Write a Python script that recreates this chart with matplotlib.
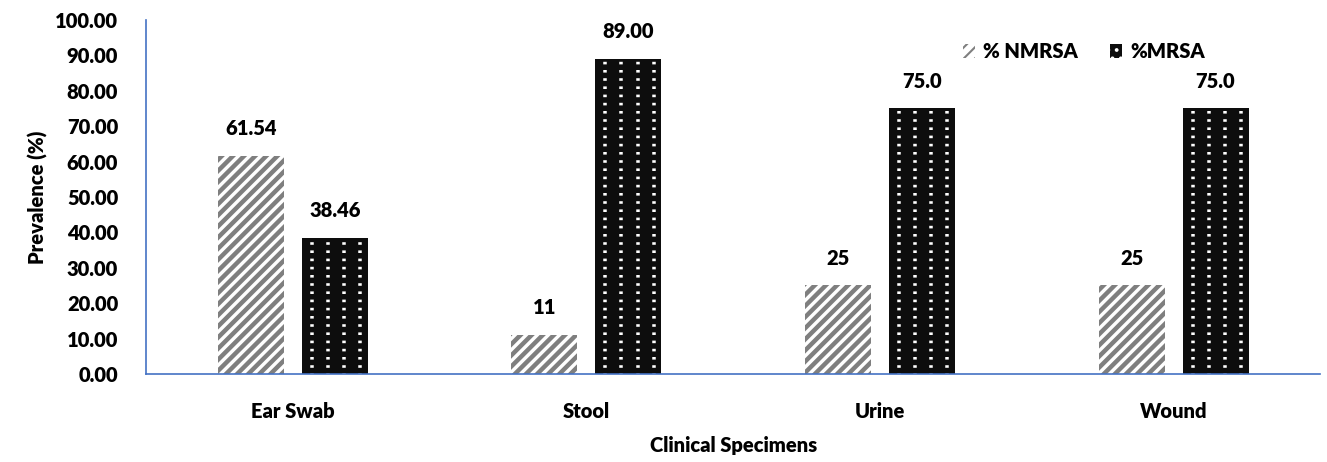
import matplotlib
matplotlib.use("Agg")
import matplotlib.pyplot as plt
import numpy as np

categories = ["Ear Swab", "Stool", "Urine", "Wound"]
nmrsa = [61.54, 11, 25, 25]
mrsa = [38.46, 89.00, 75.0, 75.0]
nmrsa_labels = ["61.54", "11", "25", "25"]
mrsa_labels = ["38.46", "89.00", "75.0", "75.0"]
yticks = [0, 10, 20, 30, 40, 50, 60, 70, 80, 90, 100]

plt.rcParams['font.family'] = ['Lato', 'DejaVu Sans']
W = 'heavy'
FS = 14.5
plt.rcParams['hatch.linewidth'] = 3.2

fig = plt.figure(figsize=(13.27, 4.62), dpi=100)
ax = fig.add_axes([0.110, 0.1905, 0.885, 0.7665])

x = np.arange(len(categories))
w = 0.225
off = 0.143
b1 = ax.bar(x - off, nmrsa, w, facecolor='white', edgecolor='#7f7f7f', hatch='///', linewidth=0, label='% NMRSA')
b2 = ax.bar(x + off, mrsa, w, facecolor='#0d0d0d', edgecolor='#0d0d0d', linewidth=0, label='%MRSA')

# white dotted pattern inside MRSA bars (4 columns of small dots)
lw_px = 3.5
lw_pt = lw_px * 0.72
for bar in b2:
    x0, bw, h = bar.get_x(), bar.get_width(), bar.get_height()
    cols = [x0 + bw * (k + 0.62) / 4.1 for k in range(4)]
    ax.vlines(cols, 0, h - 0.6, colors='white', linewidth=lw_pt,
              linestyles=[(2.0 / lw_px, (2.6 / lw_px, 5.6 / lw_px))], zorder=3, capstyle='butt')

for xi, v, lab in zip(x - off, nmrsa, nmrsa_labels):
    ax.text(xi, v + 5, lab, ha='center', va='bottom', fontsize=FS, fontweight=W)
for xi, v, lab in zip(x + off, mrsa, mrsa_labels):
    ax.text(xi, v + 5, lab, ha='center', va='bottom', fontsize=FS, fontweight=W)

ax.set_xlim(-0.5, 3.5)
ax.set_ylim(0, 100)
ax.set_yticks(yticks)
ax.set_yticklabels([f"{t:.2f}" for t in yticks], fontsize=FS, fontweight=W)
ax.set_xticks(x)
ax.set_xticklabels(categories, fontsize=FS, fontweight=W)
ax.tick_params(axis='y', length=0, pad=20)
ax.tick_params(axis='x', length=0, pad=20)
for s in ['top', 'right']:
    ax.spines[s].set_visible(False)
for s in ['left', 'bottom']:
    ax.spines[s].set_color('#4472c4')
    ax.spines[s].set_linewidth(1.2)
    ax.spines[s].set_zorder(4)

ax.set_ylabel("Prevalence (%)", fontsize=FS, fontweight=W, labelpad=5)
ax.set_xlabel("Clinical Specimens", fontsize=FS, fontweight=W, labelpad=11)

from matplotlib.patches import Patch
h1 = Patch(facecolor='white', edgecolor='#7f7f7f', hatch='///', linewidth=0)
plt.rcParams['hatch.linewidth'] = 1.5
h2 = Patch(facecolor='#0d0d0d', edgecolor='white', hatch='..', linewidth=0)
leg = ax.legend([h1, h2], ['% NMRSA', '%MRSA'], loc='center left', bbox_to_anchor=(0.68, 0.91), ncol=2, frameon=False,
          prop={'size': FS, 'weight': W}, handlelength=0.6, handleheight=0.7,
          columnspacing=1.6, handletextpad=0.4)

fig.savefig("out.png", dpi=100)
